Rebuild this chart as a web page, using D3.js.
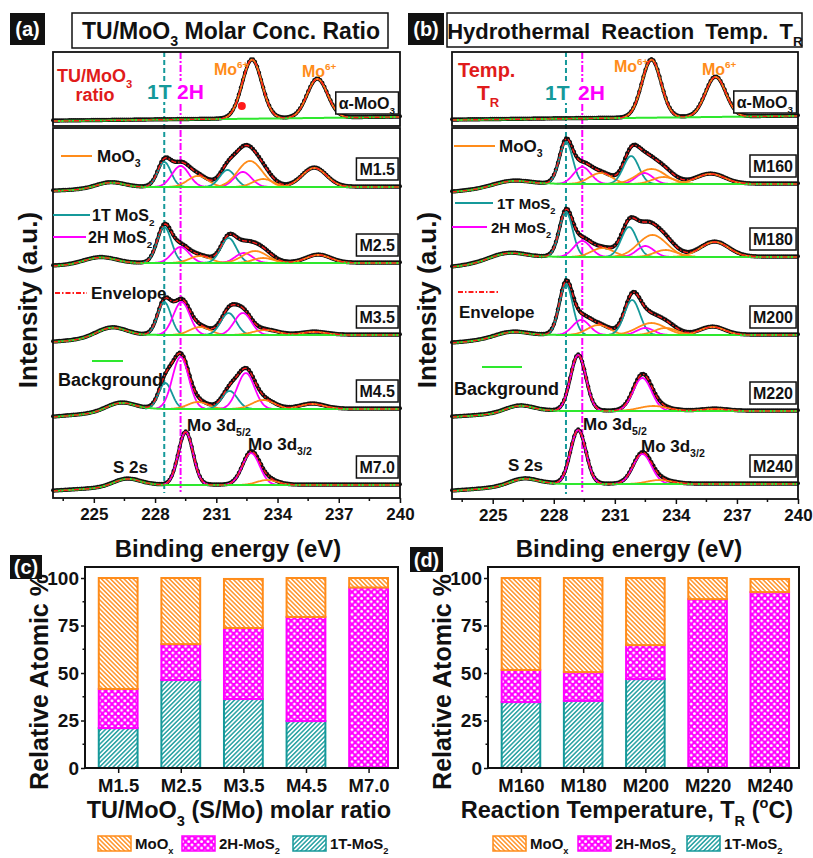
<!DOCTYPE html>
<html>
<head>
<meta charset="utf-8">
<script src="https://cdn.jsdelivr.net/npm/d3@7"></script>
<style>
  body { margin: 0; background: #fff; }
  svg text { font-family: "Liberation Sans", Arial, sans-serif; font-weight: bold; fill: #111; }
</style>
</head>
<body>
<svg id="fig" width="813" height="858"></svg>
<script>
// ---------- data ----------
// x axis of the XPS panels
var energyTicks = [225, 228, 231, 234, 237, 240];
var energyMinor = [223.5, 226.5, 229.5, 232.5, 235.5, 238.5];

// reference lines (1T, 2H) in eV
var refLinesA = [228.45, 229.25];
var refLinesB = [228.6, 229.4];

// panel (a): spectra from top to bottom, offsets in a.u.
var namesA = ["α-MoO3", "M1.5", "M2.5", "M3.5", "M4.5", "M7.0"];
var offsetA = [377, 311, 235, 163, 89, 13];
var tiltA = [4, 0, 0, 0, 0, 0];
var dropA = [0, 4, 3, 7, 8, 6];
// S 2s bump: centre, height, width
var s2sA = [[226, 0, 0.7], [225.8, 6, 0.7], [225.3, 7, 0.8], [225.85, 10, 0.75], [226.3, 8.5, 0.7], [226.6, 7.5, 0.65]];
// fitted components: kind (t = 1T, h = 2H, o = MoO3), centre, height, width
var peaksA = [
  [["o", 232.75, 59, 0.48], ["o", 235.95, 39, 0.5]],
  [["t", 228.45, 25, 0.33], ["h", 229.25, 21, 0.42], ["o", 230.1, 11, 0.5], ["t", 231.55, 17, 0.38], ["h", 232.3, 15, 0.42], ["o", 232.65, 26, 0.6], ["o", 233.3, 8, 0.5], ["o", 235.8, 19, 0.6]],
  [["t", 228.45, 36, 0.35], ["h", 229.25, 16, 0.42], ["o", 230.2, 7, 0.5], ["t", 231.6, 25, 0.38], ["h", 232.35, 10, 0.42], ["o", 232.9, 12, 0.6], ["o", 233.3, 5, 0.5], ["o", 236.0, 8, 0.6]],
  [["t", 228.45, 33, 0.33], ["h", 229.3, 33, 0.4], ["o", 230.2, 8, 0.5], ["t", 231.6, 22, 0.38], ["h", 232.3, 22, 0.42], ["o", 233.4, 5, 0.6], ["o", 235.8, 3, 0.6]],
  [["t", 228.5, 26, 0.33], ["h", 229.25, 52, 0.4], ["o", 230.1, 7, 0.5], ["t", 231.65, 18, 0.38], ["h", 232.45, 36, 0.42], ["o", 233.3, 9, 0.55], ["o", 235.7, 5, 0.6]],
  [["h", 229.5, 53, 0.36], ["h", 232.7, 32, 0.42], ["o", 233.5, 5, 0.5]]
];

// panel (b)
var namesB = ["α-MoO3", "M160", "M180", "M200", "M220", "M240"];
var offsetB = [379, 315, 242, 164, 88, 15];
var tiltB = [4, 0, 0, 0, 0, 0];
var dropB = [0, 8, 10, 8, 6, 7];
var s2sB = [[226, 0, 0.7], [225.9, 6, 0.9], [225.7, 8, 0.9], [225.9, 6, 0.8], [226.3, 7, 0.7], [226.5, 7, 0.7]];
var peaksB = [
  [["o", 232.8, 58, 0.47], ["o", 235.95, 40, 0.5]],
  [["t", 228.6, 42, 0.33], ["h", 229.4, 17, 0.42], ["o", 230.3, 11, 0.55], ["t", 231.8, 28, 0.38], ["h", 232.45, 11, 0.42], ["o", 232.8, 15, 0.7], ["o", 233.4, 7, 0.55], ["o", 235.7, 10, 0.7]],
  [["t", 228.6, 45, 0.33], ["h", 229.4, 16, 0.42], ["o", 230.4, 9, 0.55], ["t", 231.7, 30, 0.38], ["h", 232.5, 11, 0.42], ["o", 232.85, 22, 0.7], ["o", 233.5, 7, 0.55], ["o", 235.9, 15, 0.7]],
  [["t", 228.6, 51, 0.33], ["h", 229.35, 15, 0.42], ["o", 230.2, 10, 0.55], ["t", 231.85, 35, 0.38], ["h", 232.5, 7, 0.42], ["o", 232.8, 12, 0.7], ["o", 233.5, 7, 0.55], ["o", 235.8, 8, 0.6]],
  [["h", 229.2, 56, 0.38], ["h", 232.35, 33, 0.45], ["o", 232.9, 5, 0.7], ["o", 235.9, 2, 0.6]],
  [["h", 229.2, 54, 0.38], ["h", 232.35, 30, 0.45], ["o", 233.2, 4, 0.6]]
];

// panels (c) and (d): relative atomic %
var catsC = ["M1.5", "M2.5", "M3.5", "M4.5", "M7.0"];
var t1C = [21, 46.3, 36.3, 24.7, 0];
var h2C = [20.6, 18.9, 37.4, 54.8, 95];
var moC = [58.4, 34.8, 25.8, 20.5, 5];

var catsD = ["M160", "M180", "M200", "M220", "M240"];
var t1D = [34.7, 35.3, 46.8, 0, 0];
var h2D = [16.9, 15.2, 17.9, 88.9, 92.6];
var moD = [48.4, 49.5, 35.3, 11.1, 6.9];

var pctTicks = [0, 25, 50, 75, 100];
var pctMinor = [12.5, 37.5, 62.5, 87.5];

// ---------- drawing ----------
var col = { t: "#15999a", h: "#ff00ff", o: "#ff8c1a", env: "#ff1a1a", bg: "#2ee82e", red: "#e01b1b" };
var svg = d3.select("#fig");
var defs = svg.append("defs");

function gauss(e, c, h, s) { return h * Math.exp(-0.5 * Math.pow((e - c) / s, 2)); }

// rich text with sub/superscripts: parts = [[text, "", "sub" or "sup"]]
function rich(t, parts, size) {
  var shift = 0;
  parts.forEach(function (p) {
    var target = p[1] === "sub" ? size * 0.32 : p[1] === "sup" ? -size * 0.42 : 0;
    var s = t.append("tspan").text(p[0]).attr("dy", target - shift);
    if (p[1]) s.attr("font-size", size * 0.62);
    shift = target;
  });
  return t;
}
function label(x, y, size, parts, fill, anchor) {
  var t = svg.append("text").attr("x", x).attr("y", y).attr("font-size", size)
    .style("fill", fill || "#111").attr("text-anchor", anchor || "start");
  return rich(t, parts, size);
}
function tagBox(x, y, w, h, txt) {
  svg.append("rect").attr("x", x).attr("y", y).attr("width", w).attr("height", h).attr("fill", "#111");
  svg.append("text").attr("x", x + w / 2).attr("y", y + h / 2 + 7).attr("text-anchor", "middle")
    .attr("font-size", 20).style("fill", "#fff").text(txt);
}

function spectraPanel(cfg, names, offsets, tilt, drop, s2s, peaks, refLines) {
  var x = d3.scaleLinear().domain([223, 240]).range([cfg.x0, cfg.x1]);
  var y = d3.scaleLinear().domain([0, 446]).range([cfg.yBot, cfg.yBot - 446]);
  var grid = d3.range(223, 240.0001, 0.05);
  var g = svg.append("g");

  // vertical reference lines
  [[refLines[0], col.t, "5,3"], [refLines[1], col.h, "7,2,2,2"]].forEach(function (r) {
    g.append("line").attr("x1", x(r[0])).attr("x2", x(r[0]))
      .attr("y1", cfg.yTop).attr("y2", cfg.yBot - 5)
      .attr("stroke", r[1]).attr("stroke-width", 2).attr("stroke-dasharray", r[2]);
  });

  names.forEach(function (name, i) {
    var flat = function (e) { return offsets[i] + tilt[i] * (e - 223) / 17; };
    var bg = function (e) {
      return flat(e) - drop[i] * Math.max(0, (227.8 - e) / 4.8) + gauss(e, s2s[i][0], s2s[i][1], s2s[i][2]);
    };
    var env = function (e) {
      return bg(e) + d3.sum(peaks[i], function (p) { return gauss(e, p[1], p[2], p[3]); });
    };
    var line = d3.line().x(function (e) { return x(e); });

    // measured data (black dots)
    g.append("path").attr("d", line.y(function (e) { return y(env(e)); })(grid))
      .attr("fill", "none").attr("stroke", "#111").attr("stroke-width", 3.4);
    g.selectAll(null).data(grid.filter(function (e, k) { return k % 2 === 0; })).enter()
      .append("circle").attr("cx", function (e) { return x(e); }).attr("cy", function (e) { return y(env(e)) - 0.7; })
      .attr("r", 2).attr("fill", "#111");

    // fitted components
    peaks[i].forEach(function (p) {
      var pts = d3.range(p[1] - 3 * p[3], p[1] + 3 * p[3] + 0.001, 0.04);
      g.append("path").attr("d", line.y(function (e) { return y(flat(e) + gauss(e, p[1], p[2], p[3])); })(pts))
        .attr("fill", "none").attr("stroke", col[p[0]]).attr("stroke-width", 1.8);
    });

    // background and envelope
    g.append("path").attr("d", line.y(function (e) { return y(bg(e)); })(grid))
      .attr("fill", "none").attr("stroke", col.bg).attr("stroke-width", 2);
    g.append("path").attr("d", line.y(function (e) { return y(env(e)); })(grid))
      .attr("fill", "none").attr("stroke", col.env).attr("stroke-width", 1.4).attr("stroke-dasharray", "5,2,1.5,2");

    // sample name box
    var bx = g.append("g");
    var t = bx.append("text").attr("font-size", 16).attr("text-anchor", "end")
      .attr("x", cfg.x1 - 5).attr("y", y(offsets[i]) - 12);
    if (i === 0) {
      rich(t, [["α-MoO", ""], ["3", "sub"]], 16);
    } else {
      t.text(name);
    }
    var bb = t.node().getBBox();
    bx.insert("rect", "text").attr("x", bb.x - 3).attr("y", y(offsets[i]) - 29)
      .attr("width", bb.width + 6).attr("height", 22)
      .attr("fill", "#fff").attr("stroke", "#111").attr("stroke-width", 1.5);
  });

  // frames
  svg.append("rect").attr("x", cfg.x0).attr("y", cfg.yTop).attr("width", cfg.x1 - cfg.x0)
    .attr("height", cfg.yMid - 1 - cfg.yTop).attr("fill", "none").attr("stroke", "#111").attr("stroke-width", 1.8);
  svg.append("rect").attr("x", cfg.x0).attr("y", cfg.yMid + 1).attr("width", cfg.x1 - cfg.x0)
    .attr("height", cfg.yBot - cfg.yMid - 1).attr("fill", "none").attr("stroke", "#111").attr("stroke-width", 1.8);

  // x axis
  var ax = svg.append("g").attr("transform", "translate(0," + cfg.yBot + ")")
    .call(d3.axisBottom(x).tickValues(energyTicks).tickSize(5).tickPadding(5).tickFormat(d3.format("d")));
  ax.select(".domain").remove();
  ax.selectAll("line").attr("stroke", "#111").attr("stroke-width", 1.5);
  ax.selectAll("text").attr("font-size", 17).style("fill", "#111");
  svg.append("g").selectAll(null).data(energyMinor).enter().append("line")
    .attr("x1", function (d) { return x(d); }).attr("x2", function (d) { return x(d); })
    .attr("y1", cfg.yBot).attr("y2", cfg.yBot + 3).attr("stroke", "#111").attr("stroke-width", 1.5);

  return x;
}

var xa = spectraPanel({ x0: 53, x1: 400, yTop: 52, yMid: 127, yBot: 498 },
  namesA, offsetA, tiltA, dropA, s2sA, peaksA, refLinesA);
var xb = spectraPanel({ x0: 452, x1: 798, yTop: 52, yMid: 127, yBot: 499 },
  namesB, offsetB, tiltB, dropB, s2sB, peaksB, refLinesB);

// white-backed phase labels on the dashed lines
function phaseLabel(x, yb, txt, c) {
  var t = svg.append("text").attr("x", x).attr("y", yb).attr("font-size", 21).style("fill", c).text(txt);
  var bb = t.node().getBBox();
  svg.insert("rect", function () { return t.node(); }).attr("x", bb.x - 1).attr("y", bb.y + 1)
    .attr("width", bb.width + 2).attr("height", bb.height - 2).attr("fill", "#fff");
}
phaseLabel(147, 99, "1T", col.t);
phaseLabel(177, 99, "2H", col.h);
phaseLabel(545, 100, "1T", col.t);
phaseLabel(578, 100, "2H", col.h);

// Mo6+ labels
[[214, 75], [302, 77], [614, 72], [702, 75]].forEach(function (p) {
  label(p[0], p[1], 16, [["Mo", ""], ["6+", "sup"]], col.o);
});
svg.append("circle").attr("cx", xa(232.25)).attr("cy", 106).attr("r", 4).attr("fill", "#ff1a1a");

// red captions in the top boxes
label(57, 82, 18, [["TU/MoO", ""], ["3", "sub"]], col.red);
label(95, 101, 18, [["ratio", ""]], col.red, "middle");
label(458, 77, 20, [["Temp.", ""]], col.red);
label(477, 100, 21, [["T", ""], ["R", "sub"]], col.red);

// legends inside the spectra panels
function legLine(x1, x2, yy, c, dash) {
  svg.append("line").attr("x1", x1).attr("x2", x2).attr("y1", yy).attr("y2", yy)
    .attr("stroke", c).attr("stroke-width", 2).attr("stroke-dasharray", dash || null);
}
legLine(61, 92, 156, col.o);
label(97, 162, 17, [["MoO", ""], ["3", "sub"]]);
legLine(53, 90, 215, col.t);
label(92, 221, 16, [["1T MoS", ""], ["2", "sub"]]);
legLine(53, 86, 237, col.h);
label(88, 243, 16, [["2H MoS", ""], ["2", "sub"]]);
legLine(55, 87, 293, col.env, "5,2,1.5,2");
label(91, 299, 17, [["Envelope", ""]]);
legLine(92, 123, 361, col.bg);
label(58, 386, 18, [["Background", ""]]);

legLine(454, 495, 146, col.o);
label(499, 152, 17, [["MoO", ""], ["3", "sub"]]);
legLine(455, 493, 203, col.t);
label(497, 209, 15, [["1T MoS", ""], ["2", "sub"]]);
legLine(452, 487, 227, col.h);
label(491, 233, 15, [["2H MoS", ""], ["2", "sub"]]);
legLine(458, 498, 292, col.env, "5,2,1.5,2");
label(459, 318, 17, [["Envelope", ""]]);
legLine(482, 522, 367, col.bg);
label(454, 395, 18, [["Background", ""]]);

// peak annotations
label(187, 431, 17, [["Mo 3d", ""], ["5/2", "sub"]]);
label(248, 450, 17, [["Mo 3d", ""], ["3/2", "sub"]]);
label(113, 473, 17, [["S 2s", ""]]);
label(583, 430, 17, [["Mo 3d", ""], ["5/2", "sub"]]);
label(641, 452, 17, [["Mo 3d", ""], ["3/2", "sub"]]);
label(508, 471, 17, [["S 2s", ""]]);

// axis titles of spectra
label(228, 557, 24, [["Binding energy (eV)", ""]], null, "middle");
label(629, 557, 24, [["Binding energy (eV)", ""]], null, "middle");
[[37, 300], [436, 300]].forEach(function (p) {
  svg.append("text").attr("transform", "translate(" + p[0] + "," + p[1] + ") rotate(-90)")
    .attr("text-anchor", "middle").attr("font-size", 26).text("Intensity (a.u.)");
});

// panel headers
tagBox(10, 13, 35, 32, "(a)");
tagBox(408, 13, 36, 32, "(b)");
svg.append("rect").attr("x", 72).attr("y", 13).attr("width", 316).attr("height", 35)
  .attr("fill", "#fff").attr("stroke", "#111").attr("stroke-width", 1.5);
label(231, 39, 23, [["TU/MoO", ""], ["3", "sub"], [" Molar Conc. Ratio", ""]], null, "middle");
svg.append("rect").attr("x", 447).attr("y", 13).attr("width", 355).attr("height", 34)
  .attr("fill", "#fff").attr("stroke", "#111").attr("stroke-width", 1.5);
label(625, 39, 22, [["Hydrothermal Reaction Temp. T", ""], ["R", "sub"]], null, "middle")
  .style("word-spacing", "5px");

// ---------- hatch patterns ----------
function lines(id, c, angle, gap, w) {
  var p = defs.append("pattern").attr("id", id).attr("patternUnits", "userSpaceOnUse")
    .attr("width", gap).attr("height", gap).attr("patternTransform", "rotate(" + angle + ")");
  p.append("rect").attr("width", gap).attr("height", gap).attr("fill", "#fff");
  p.append("line").attr("x1", gap / 2).attr("x2", gap / 2).attr("y1", 0).attr("y2", gap)
    .attr("stroke", c).attr("stroke-width", w);
}
lines("hatchMo", col.o, -45, 3.2, 1.4);
lines("hatch1T", col.t, 45, 3.2, 1.4);
(function () {
  var s = 6.4;
  var p = defs.append("pattern").attr("id", "hatch2H").attr("patternUnits", "userSpaceOnUse")
    .attr("width", s).attr("height", s);
  p.append("rect").attr("width", s).attr("height", s).attr("fill", col.h);
  [[0, 0], [s, 0], [0, s], [s, s], [s / 2, s / 2]].forEach(function (q) {
    p.append("circle").attr("cx", q[0]).attr("cy", q[1]).attr("r", 1.45).attr("fill", "#fff");
  });
})();
var fills = { t1: ["url(#hatch1T)", col.t], h2: ["url(#hatch2H)", col.h], mo: ["url(#hatchMo)", col.o] };

function barPanel(x0, x1, cats, t1, h2, mo, titleParts, titleX, yTitleX) {
  var x = d3.scaleLinear().domain([0.47, 5.47]).range([x0, x1]);
  var y = d3.scaleLinear().domain([0, 105.8]).range([768, 567]);
  var rows = cats.map(function (c, i) { return { cat: c, i: i + 1, t1: t1[i], h2: h2[i], mo: mo[i] }; });
  var series = d3.stack().keys(["t1", "h2", "mo"])(rows);
  var bw = 0.62;

  series.forEach(function (s) {
    svg.append("g").selectAll(null).data(s.filter(function (d) { return d[1] - d[0] > 0; })).enter()
      .append("rect")
      .attr("x", function (d) { return x(d.data.i - bw / 2); })
      .attr("width", x(bw) - x(0))
      .attr("y", function (d) { return y(d[1]); })
      .attr("height", function (d) { return y(d[0]) - y(d[1]); })
      .attr("fill", fills[s.key][0]).attr("stroke", fills[s.key][1]).attr("stroke-width", 2);
  });

  svg.append("rect").attr("x", x0).attr("y", 567).attr("width", x1 - x0).attr("height", 201)
    .attr("fill", "none").attr("stroke", "#111").attr("stroke-width", 2);

  var ay = svg.append("g").attr("transform", "translate(" + x0 + ",0)")
    .call(d3.axisLeft(y).tickValues(pctTicks).tickSize(4).tickPadding(2));
  ay.select(".domain").remove();
  ay.selectAll("line").attr("stroke", "#111").attr("stroke-width", 1.5);
  ay.selectAll("text").attr("font-size", 19).style("fill", "#111");
  svg.append("g").selectAll(null).data(pctMinor).enter().append("line")
    .attr("x1", x0 - 2.5).attr("x2", x0).attr("y1", function (d) { return y(d); }).attr("y2", function (d) { return y(d); })
    .attr("stroke", "#111").attr("stroke-width", 1.5);

  var axx = svg.append("g").attr("transform", "translate(0,768)")
    .call(d3.axisBottom(x).tickValues([1, 2, 3, 4, 5]).tickSize(5).tickPadding(6)
      .tickFormat(function (d) { return cats[d - 1]; }));
  axx.select(".domain").remove();
  axx.selectAll("line").attr("stroke", "#111").attr("stroke-width", 1.5);
  axx.selectAll("text").attr("font-size", 18.5).style("fill", "#111");

  label(titleX, 818, 23.5, titleParts, null, "middle");
  svg.append("text").attr("transform", "translate(" + yTitleX + ",682) rotate(-90)")
    .attr("text-anchor", "middle").attr("font-size", 25).text("Relative Atomic %");
}

barPanel(85, 398, catsC, t1C, h2C, moC, [["TU/MoO", ""], ["3", "sub"], [" (S/Mo) molar ratio", ""]], 239, 48);
barPanel(488, 799, catsD, t1D, h2D, moD, [["Reaction Temperature, T", ""], ["R", "sub"], [" (", ""], ["o", "sup"], ["C)", ""]], 627, 451);
tagBox(10, 555, 32, 24, "(c)");
tagBox(410, 547, 33, 25, "(d)");

// bar legends
function barLegend(xs) {
  var items = [["mo", [["MoO", ""], ["x", "sub"]]], ["h2", [["2H-MoS", ""], ["2", "sub"]]], ["t1", [["1T-MoS", ""], ["2", "sub"]]]];
  items.forEach(function (it, k) {
    svg.append("rect").attr("x", xs[k]).attr("y", 836).attr("width", 33).attr("height", 15)
      .attr("fill", fills[it[0]][0]).attr("stroke", fills[it[0]][1]).attr("stroke-width", 1.5);
    label(xs[k] + 37, 849, 15, it[1]);
  });
}
barLegend([98, 182, 293]);
barLegend([493, 578, 687]);
</script>
</body>
</html>
